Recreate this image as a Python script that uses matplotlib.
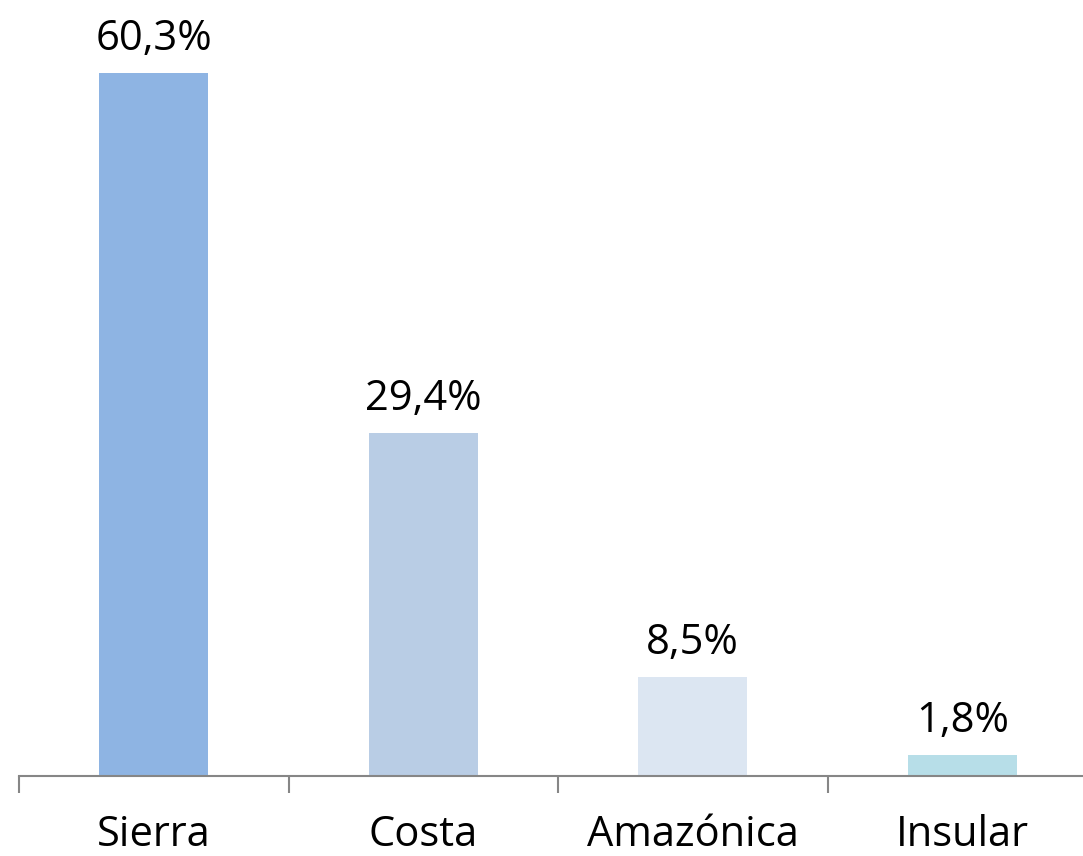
import numpy as np
import matplotlib
matplotlib.use("Agg")
import matplotlib.pyplot as plt

# data
regions = ["Sierra", "Costa", "Amazónica", "Insular"]
shares = [60.3, 29.4, 8.5, 1.8]
labels = ["60,3%", "29,4%", "8,5%", "1,8%"]
colors = ["#8EB4E3", "#B9CDE5", "#DCE6F2", "#B7DEE8"]

plt.rcParams['font.family'] = ['Open Sans', 'DejaVu Sans']

fig = plt.figure(figsize=(10.83, 8.56), dpi=100)
# axes run a bit past the right edge, as in the original
ax = fig.add_axes([19/1083, 80/856, 1078/1083, 776/856])

x = np.arange(len(regions))
ax.bar(x, shares, width=0.405, color=colors)

for xi, v, lab in zip(x, shares, labels):
    ax.annotate(lab, (xi, v), xytext=(0, 16.5), textcoords="offset points",
                ha="center", va="baseline", fontsize=30, color="black")

ax.set_xlim(-0.5, len(regions) - 0.5)
ax.set_ylim(0, 66.55)
ax.set_xticks(x)
ax.set_xticklabels(regions, fontsize=30)
ax.tick_params(axis="x", length=0, pad=27)
# category separators as minor ticks
ax.set_xticks(np.arange(-0.5, len(regions), 1.0), minor=True)
ax.tick_params(axis="x", which="minor", length=12, width=1.5, color="#868686")
ax.set_yticks([])

for s in ["top", "right", "left"]:
    ax.spines[s].set_visible(False)
ax.spines["bottom"].set_color("#868686")
ax.spines["bottom"].set_linewidth(1.5)

fig.savefig("out.png", dpi=100)
